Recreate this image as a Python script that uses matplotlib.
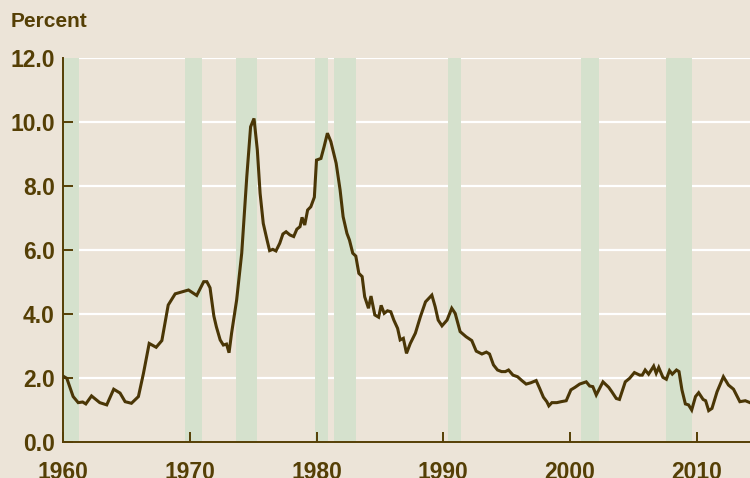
import matplotlib
matplotlib.use("Agg")
import matplotlib.pyplot as plt

# quarterly-ish readings
years = [1960.0, 1960.3, 1960.8, 1961.2, 1961.55, 1961.8, 1962.25, 1962.9, 1963.45, 1964.0,
         1964.5, 1964.9, 1965.4, 1965.95, 1966.35, 1966.8, 1967.35, 1967.8, 1968.3, 1968.85,
         1969.2, 1969.9, 1970.55, 1971.1, 1971.35, 1971.6, 1971.9, 1972.1, 1972.4, 1972.65,
         1972.9, 1973.1, 1973.3, 1973.7, 1974.1, 1974.5, 1974.8, 1975.07, 1975.33, 1975.55,
         1975.8, 1976.1, 1976.3, 1976.55, 1976.8, 1977.1, 1977.35, 1977.6, 1977.9, 1978.2,
         1978.45, 1978.7, 1978.86, 1979.07, 1979.3, 1979.55, 1979.83, 1980.0, 1980.35, 1980.6,
         1980.86, 1981.13, 1981.55, 1981.86, 1982.1, 1982.4, 1982.6, 1982.86, 1983.1, 1983.34,
         1983.6, 1983.8, 1984.1, 1984.3, 1984.6, 1984.9, 1985.1, 1985.34, 1985.6, 1985.86,
         1986.1, 1986.4, 1986.6, 1986.85, 1987.1, 1987.4, 1987.8, 1988.2, 1988.6, 1989.1,
         1989.36, 1989.6, 1989.9, 1990.3, 1990.67, 1990.94, 1991.33, 1991.8, 1992.25, 1992.6,
         1993.05, 1993.4, 1993.65, 1993.96, 1994.28, 1994.6, 1994.9, 1995.15, 1995.5, 1995.86,
         1996.2, 1996.54, 1996.9, 1997.33, 1997.6, 1997.9, 1998.17, 1998.33, 1998.57, 1998.96,
         1999.3, 1999.7, 2000.07, 2000.4, 2000.76, 2001.28, 2001.55, 2001.8, 2002.07, 2002.6,
         2003.05, 2003.3, 2003.65, 2003.9, 2004.36, 2004.7, 2005.08, 2005.5, 2005.7, 2005.93,
         2006.2, 2006.6, 2006.8, 2007.0, 2007.33, 2007.6, 2007.85, 2008.07, 2008.4, 2008.6,
         2008.83, 2009.1, 2009.35, 2009.6, 2009.9, 2010.15, 2010.5, 2010.7, 2010.94, 2011.2,
         2011.6, 2012.1, 2012.5, 2012.9, 2013.4, 2013.83, 2014.2]
values = [2.06, 1.99, 1.42, 1.23, 1.25, 1.19, 1.44, 1.23, 1.16, 1.65,
          1.53, 1.26, 1.21, 1.42, 2.15, 3.08, 2.96, 3.17, 4.28, 4.63,
          4.67, 4.75, 4.58, 5.01, 5.01, 4.82, 3.94, 3.6, 3.19, 3.03,
          3.06, 2.79, 3.4, 4.44, 5.9, 8.29, 9.85, 10.11, 9.13, 7.77,
          6.83, 6.31, 5.98, 6.02, 5.97, 6.21, 6.5, 6.57, 6.47, 6.42,
          6.65, 6.73, 7.02, 6.78, 7.25, 7.35, 7.65, 8.81, 8.86, 9.23,
          9.65, 9.39, 8.71, 7.88, 7.04, 6.52, 6.31, 5.9, 5.81, 5.27,
          5.17, 4.54, 4.18, 4.56, 3.97, 3.9, 4.27, 4.02, 4.1, 4.07,
          3.81, 3.55, 3.19, 3.24, 2.77, 3.08, 3.4, 3.92, 4.38, 4.59,
          4.23, 3.81, 3.63, 3.81, 4.18, 4.02, 3.45, 3.29, 3.17, 2.84,
          2.75, 2.81, 2.75, 2.41, 2.25, 2.2, 2.2, 2.25, 2.09, 2.04,
          1.92, 1.81, 1.85, 1.92, 1.68, 1.4, 1.26, 1.13, 1.23, 1.23,
          1.26, 1.29, 1.63, 1.71, 1.81, 1.88, 1.75, 1.73, 1.47, 1.88,
          1.71, 1.57, 1.36, 1.33, 1.88, 1.99, 2.17, 2.09, 2.09, 2.25,
          2.12, 2.37, 2.15, 2.33, 2.02, 1.96, 2.23, 2.12, 2.25, 2.2,
          1.63, 1.19, 1.16, 1.0, 1.42, 1.54, 1.33, 1.29, 0.98, 1.05,
          1.57, 2.04, 1.78, 1.65, 1.26, 1.29, 1.23]

# recession bands (start, end)
rec_start = [1960.0, 1969.6, 1973.65, 1979.9, 1981.4, 1990.4, 2000.9, 2007.6]
rec_end = [1961.3, 1971.0, 1975.3, 1980.9, 1983.1, 1991.4, 2002.25, 2009.6]

yticks = [0, 2, 4, 6, 8, 10, 12]
xticks = [1960, 1970, 1980, 1990, 2000, 2010]

bg = '#ECE4D8'
brown = '#553F05'
green = '#D5E1CD'

plt.rcParams['font.family'] = ['Liberation Sans', 'DejaVu Sans']

fig = plt.figure(figsize=(7.5, 4.78), dpi=100, facecolor=bg)
ax = fig.add_axes([0.084, 0.0753, 0.916, 0.8034])
ax.set_facecolor(bg)

for y in yticks[1:]:
    ax.axhline(y, color='white', lw=1.6, zorder=0.5)
for s, e in zip(rec_start, rec_end):
    ax.axvspan(s, e, color=green, lw=0, zorder=1)

ax.plot(years, values, color='#4A3606', lw=2.2, zorder=3, solid_joinstyle='miter')

ax.set_xlim(1960, 2014.2)
ax.set_ylim(0, 12)
ax.set_yticks(yticks)
ax.set_yticklabels(['%.1f' % v for v in yticks])
ax.set_xticks(xticks)
ax.set_xticklabels([str(v) for v in xticks])

for side in ['top', 'right']:
    ax.spines[side].set_visible(False)
for side in ['left', 'bottom']:
    ax.spines[side].set_color(brown)
    ax.spines[side].set_linewidth(1.4)

ax.tick_params(axis='y', direction='in', length=7.5, width=1.4, color=brown,
               labelcolor=brown, labelsize=16.5, pad=6)
ax.tick_params(axis='x', direction='in', length=7, width=1.4, color=brown,
               labelcolor=brown, labelsize=16.5, pad=14)
ax.yaxis.get_major_ticks()[-1].tick1line.set_visible(False)
for lab in ax.get_xticklabels() + ax.get_yticklabels():
    lab.set_fontweight('bold')

fig.text(0.014, 0.955, 'Percent', color=brown, fontsize=15, fontweight='bold',
         ha='left', va='center')

fig.savefig('out.png', dpi=100, facecolor=bg)
